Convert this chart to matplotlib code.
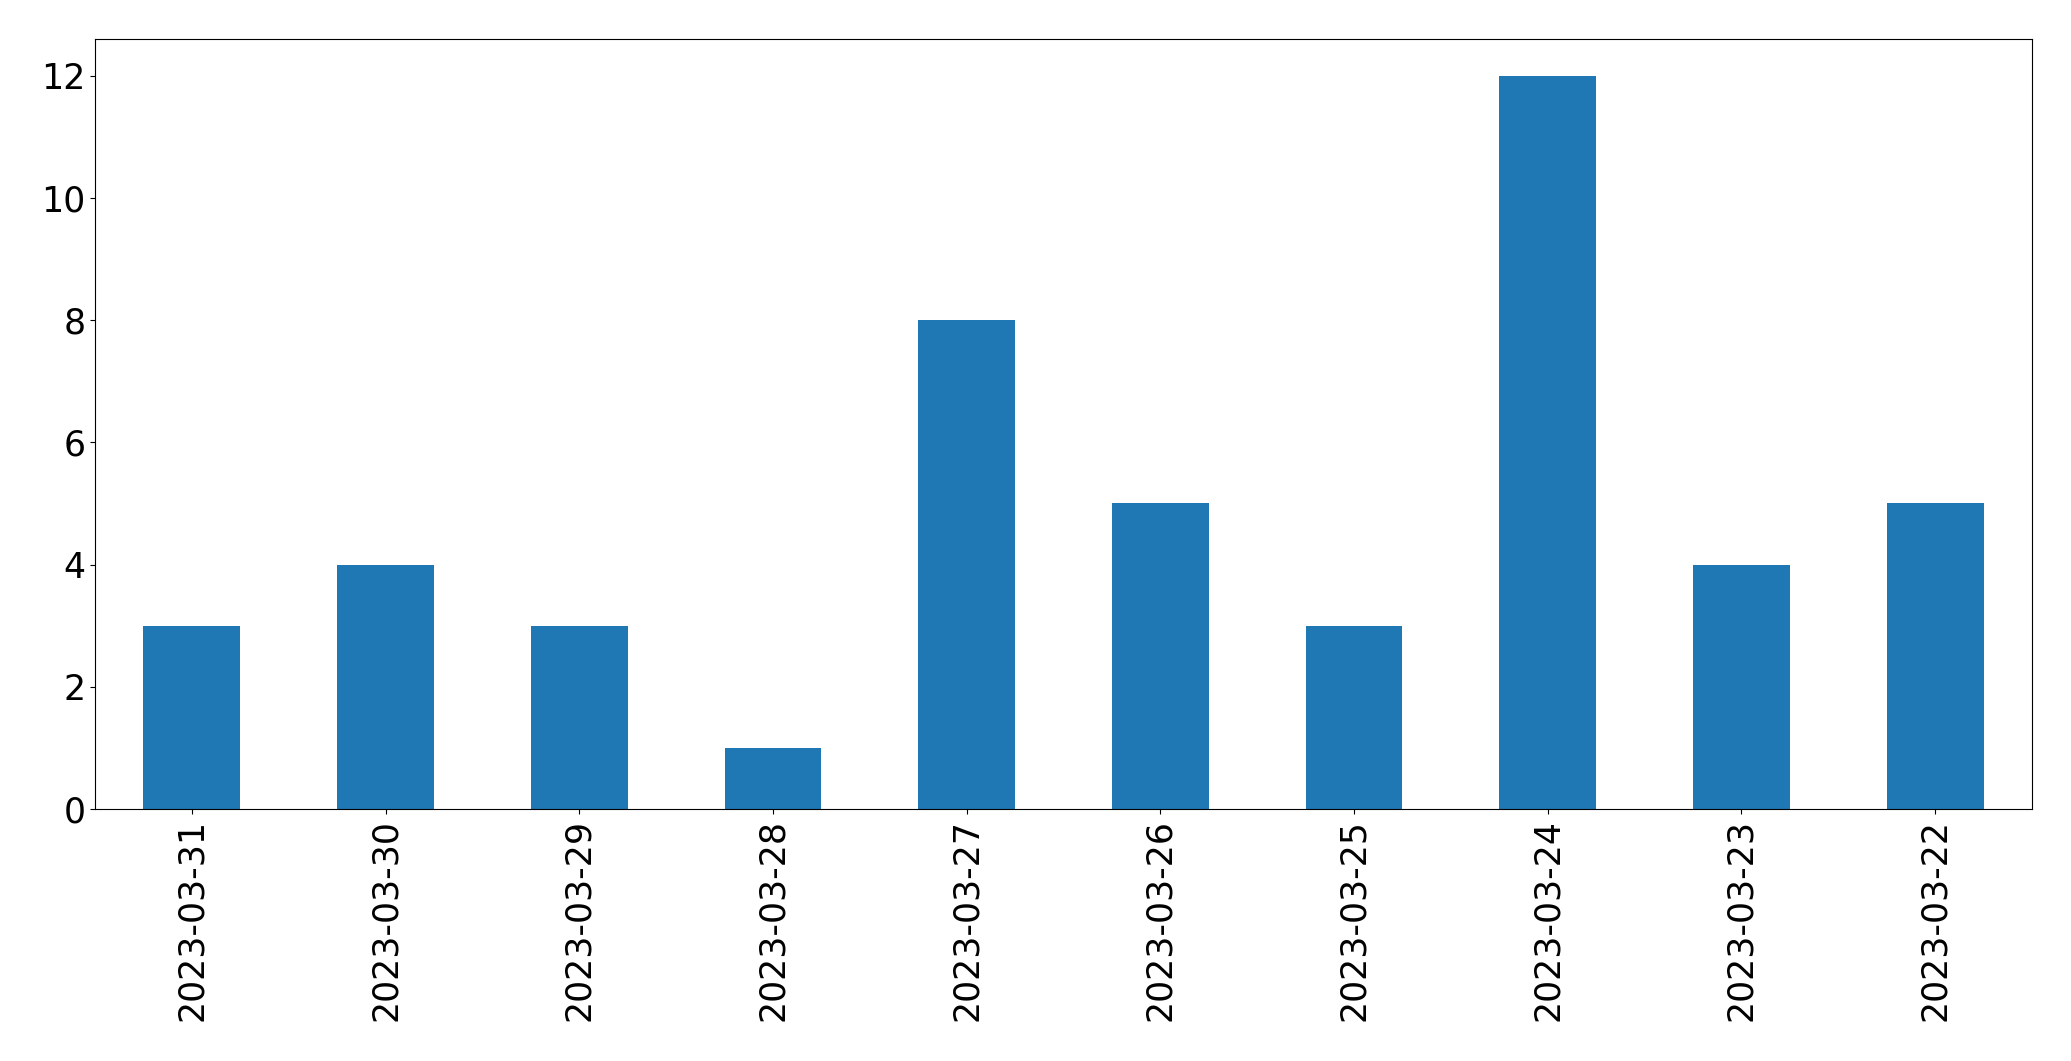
import matplotlib
matplotlib.use("Agg")
import matplotlib.pyplot as plt
import pandas as pd

dates = ["2023-03-31", "2023-03-30", "2023-03-29", "2023-03-28", "2023-03-27",
         "2023-03-26", "2023-03-25", "2023-03-24", "2023-03-23", "2023-03-22"]
counts = [3, 4, 3, 1, 8, 5, 3, 12, 4, 5]

fig = plt.figure(figsize=(20.71, 10.61), dpi=100)
ax = fig.add_axes([95/2071, 1 - 809/1061, (2032-95)/2071, (809-39)/1061])
s = pd.Series(counts, index=dates)
s.plot(kind="bar", ax=ax, color="#1f77b4", width=0.5)
ax.tick_params(axis="both", labelsize=25)
ax.set_xlabel("")
fig.savefig("out.png", dpi=100)
